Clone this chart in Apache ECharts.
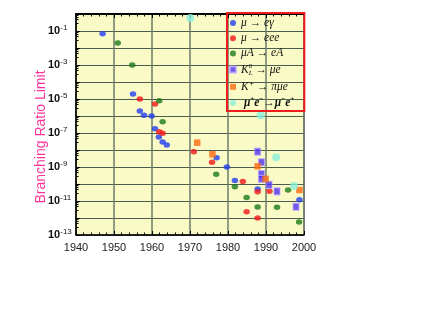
<!DOCTYPE html>
<html><head><meta charset="utf-8">
<script src="https://cdn.jsdelivr.net/npm/echarts@6/dist/echarts.min.js"></script>
<style>html,body{margin:0;padding:0;background:#fff}#c{width:436px;height:327px}</style>
</head><body><div id="c"></div>
<script>
// ---- data (year, branching ratio limit) ----
const muEGamma = [[1947,7e-2],[1955,2e-5],[1956.8,2e-6],[1957.9,1.1e-6],[1959.9,1e-6],[1960.8,1.8e-7],[1961.8,5.8e-8],[1962.8,3e-8],[1963.9,2e-8],[1977,3.5e-9],[1979.7,1e-9],[1981.8,1.6e-10],[1987.8,5e-11],[1998.8,1.2e-11]];
const muEee = [[1956.8,1e-5],[1960.8,5e-6],[1961.9,1.2e-7],[1962.8,9.6e-8],[1971,8e-9],[1975.8,1.9e-9],[1983.9,1.4e-10],[1987.8,3.5e-11],[1990.9,3.7e-11],[1984.9,2.3e-12],[1987.8,1e-12]];
const muAeA = [[1951,2e-2],[1954.8,1e-3],[1961.9,8e-6],[1962.8,4.6e-7],[1976.9,3.7e-10],[1981.8,7e-11],[1984.9,1.6e-11],[1987.8,4.4e-12],[1992.9,4.3e-12],[1995.8,4.4e-11],[1998.7,5.8e-13]];
const kLmuE = [[1987.8,8e-9],[1988.8,1.9e-9],[1988.8,3.9e-10],[1988.8,2e-10],[1990.8,9e-11],[1992.9,3.7e-11],[1997.9,4.6e-12]];
const kPlusPiMuE = [[1971.9,2.7e-8],[1975.9,5.6e-9],[1987.8,1.1e-9],[1989.9,2e-10],[1998.8,4.4e-11]];
const muonium = [[1970.1,0.58],[1988.6,1.1e-6],[1992.7,3.7e-9],[1997.4,7.6e-11]];

const seriesNames = ['mu_egamma','mu_eee','muA_eA','KL_mue','Kplus_pimue','muonium'];
const legendLabels = {
  mu_egamma: '{t|μ → eγ}',
  mu_eee: '{t|μ → eee}',
  muA_eA: '{t|μA → eA}',
  KL_mue: '{t|K}{sup0|0}{sub|L}{t| → μe}',
  Kplus_pimue: '{t|K}{sup|+}{t| → πμe}',
  muonium: '{b| μ}{bs|+}{b|e}{bs|−}{b|→μ}{bs|−}{b|e}{bs|+}'
};
const xTickYears = [1940,1950,1960,1970,1980,1990,2000];
const yTitle = 'Branching Ratio Limit';

const chart = echarts.init(document.getElementById('c'));
const serif = 'Liberation Serif';
chart.setOption({
  animation: false,
  backgroundColor: '#ffffff',
  grid: {left: 76, top: 14, width: 228, height: 221, show: true,
         backgroundColor: '#fafac6', borderColor: '#333', borderWidth: 1},
  xAxis: [{
    type: 'value', min: xTickYears[0], max: xTickYears[xTickYears.length-1], interval: 10,
    axisLine: {show: true, lineStyle: {color: '#000', width: 1.5}},
    axisTick: {show: true, inside: true, length: 4, lineStyle: {color: '#000'}},
    minorTick: {show: true, splitNumber: 5, length: 2.5, lineStyle: {color: '#000'}},
    splitLine: {show: true, lineStyle: {color: '#6b7d6b', width: 1.5}},
    axisLabel: {color: '#222', fontSize: 11, margin: 7, fontFamily: 'Liberation Sans',
                formatter: function (v) { return String(v); }}
  }, {
    type: 'value', position: 'top', min: 1940, max: 2000, interval: 10,
    axisLine: {show: true, lineStyle: {color: '#000', width: 2}},
    axisTick: {show: true, inside: true, length: 4, lineStyle: {color: '#000'}},
    minorTick: {show: true, splitNumber: 5, length: 2.5, lineStyle: {color: '#000'}},
    splitLine: {show: false}, axisLabel: {show: false}
  }],
  yAxis: {
    type: 'log', logBase: 10, min: 1e-13, max: 1, interval: 1,
    axisLine: {show: true, lineStyle: {color: '#000', width: 1.5}},
    axisTick: {show: true, inside: true, length: 4, lineStyle: {color: '#000'}},
    minorTick: {show: true, splitNumber: 5, length: 2.5, lineStyle: {color: '#000'}},
    splitLine: {show: true, lineStyle: {color: '#4d5c4d', width: 1}},
    axisLabel: {
      align: 'left', margin: 28,
      formatter: function (v) {
        const e = Math.round(Math.log10(v));
        if (e % 2 === 0) return '';
        return '{b|10}{s|' + e + '}';
      },
      rich: {
        b: {fontWeight: 'bold', fontSize: 11, color: '#111', lineHeight: 14, fontFamily: 'Liberation Sans'},
        s: {fontSize: 8, color: '#111', verticalAlign: 'top', lineHeight: 8, fontFamily: 'Liberation Sans'}
      }
    }
  },
  legend: {
    orient: 'vertical', left: 227, top: 13,
    padding: [4, 10, 2, 2], itemGap: 3.2, itemWidth: 6, itemHeight: 6,
    borderColor: '#ee1c1c', borderWidth: 2, backgroundColor: 'transparent',
    data: [
      {name: 'mu_egamma', icon: 'circle'},
      {name: 'mu_eee', icon: 'circle'},
      {name: 'muA_eA', icon: 'circle'},
      {name: 'KL_mue', icon: 'rect'},
      {name: 'Kplus_pimue', icon: 'rect'},
      {name: 'muonium', icon: 'circle'}
    ],
    formatter: function (name) { return legendLabels[name]; },
    textStyle: {
      color: '#111',
      rich: {
        t: {fontFamily: serif, fontStyle: 'italic', fontSize: 11.5, color: '#111', lineHeight: 14},
        sup: {fontFamily: serif, fontStyle: 'italic', fontSize: 8, color: '#111', verticalAlign: 'top', lineHeight: 8},
        sup0: {fontFamily: serif, fontSize: 7, color: '#111', verticalAlign: 'top', lineHeight: 8, width: 0},
        sub: {fontFamily: serif, fontStyle: 'italic', fontSize: 7, color: '#111', verticalAlign: 'bottom', lineHeight: 8},
        b: {fontFamily: serif, fontStyle: 'italic', fontWeight: 'bold', fontSize: 11.5, color: '#111', lineHeight: 14},
        bs: {fontFamily: serif, fontWeight: 'bold', fontSize: 7, color: '#111', verticalAlign: 'top', lineHeight: 8}
      }
    }
  },
  graphic: [{
    type: 'text', x: 41, y: 137, rotation: Math.PI / 2,
    style: {text: yTitle, fill: '#ff3399', fontSize: 14, fontFamily: 'Liberation Sans', align: 'center', verticalAlign: 'middle'}
  }],
  series: [
    {name: seriesNames[0], type: 'scatter', data: muEGamma, symbol: 'circle', symbolSize: [6.5, 5.5], itemStyle: {color: '#1f3df0'}},
    {name: seriesNames[1], type: 'scatter', data: muEee, symbol: 'circle', symbolSize: [6.5, 5.5], itemStyle: {color: '#f01818'}},
    {name: seriesNames[2], type: 'scatter', data: muAeA, symbol: 'circle', symbolSize: [6.5, 5.5], itemStyle: {color: '#1a7a1a'}},
    {name: seriesNames[3], type: 'scatter', data: kLmuE, symbol: 'rect', symbolSize: [6, 7], itemStyle: {color: '#5030f0', borderColor: '#b8a8ff', borderWidth: 1}},
    {name: seriesNames[4], type: 'scatter', data: kPlusPiMuE, symbol: 'rect', symbolSize: [6.5, 6.5], itemStyle: {color: '#ff6a10'}},
    {name: seriesNames[5], type: 'scatter', data: muonium, symbol: 'circle', symbolSize: 8, itemStyle: {color: '#88f0dc'}}
  ]
});
</script>
</body></html>
